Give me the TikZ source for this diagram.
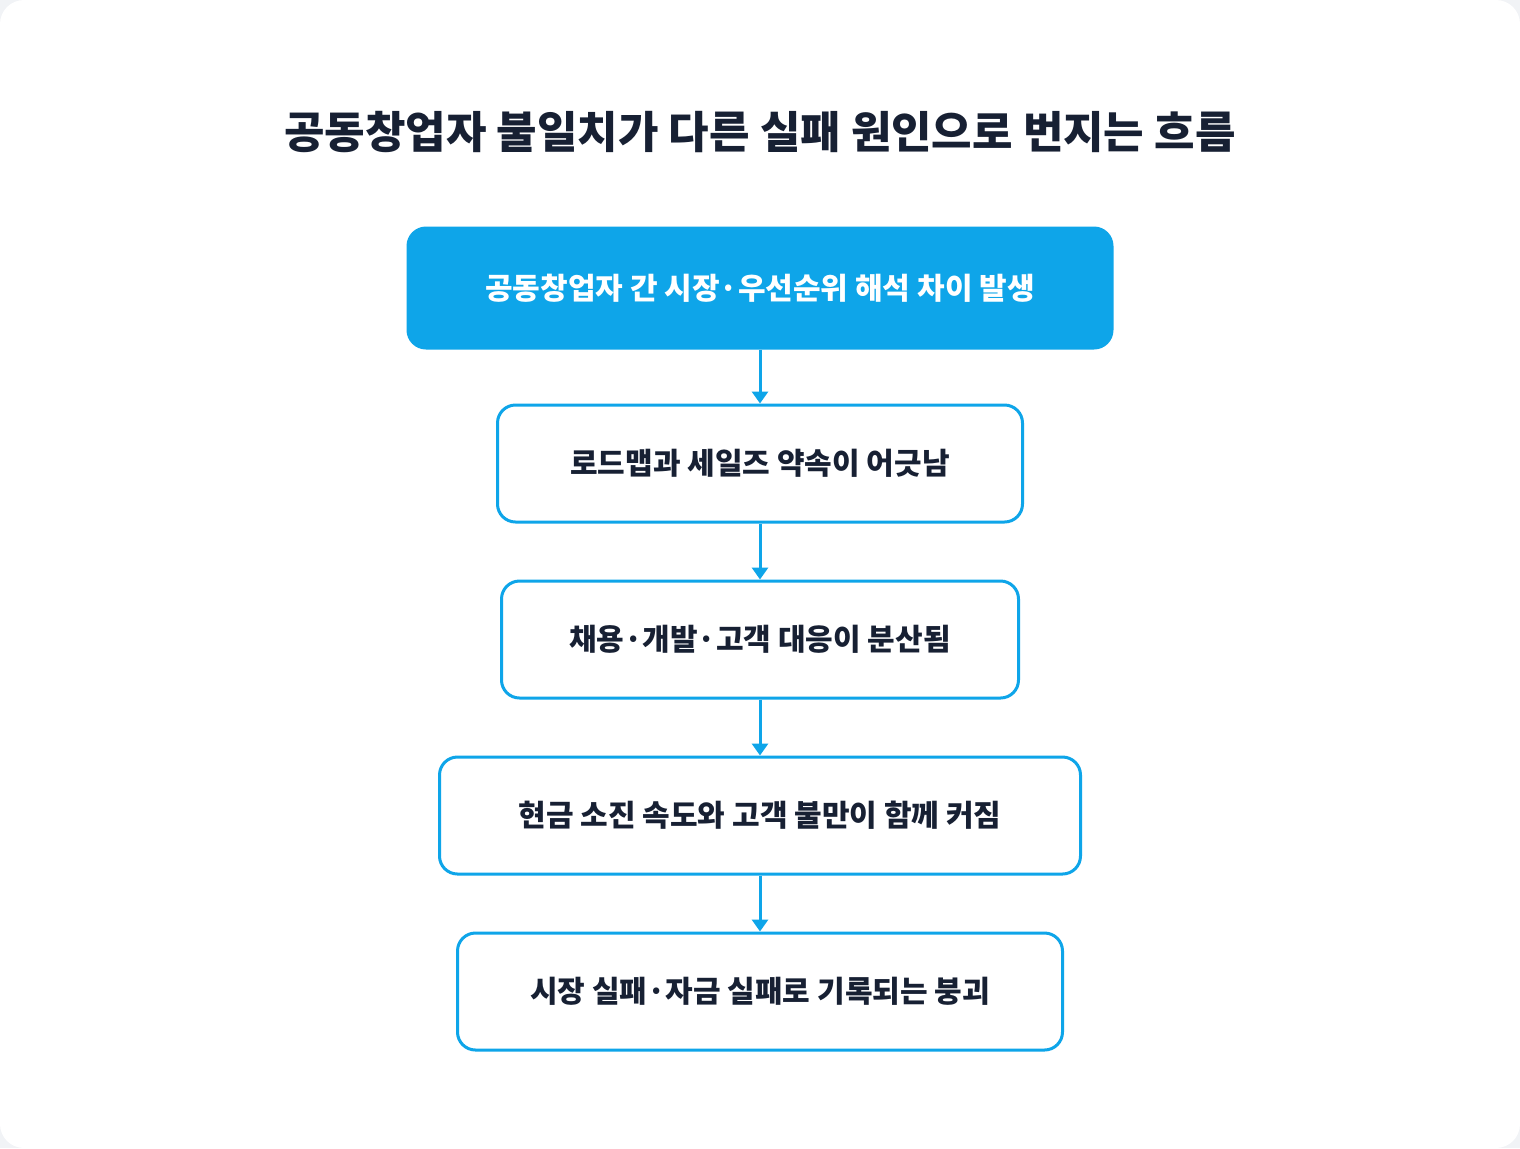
\documentclass[tikz,border=0pt]{standalone}
\usepackage{fontspec}
\setmainfont{Noto Sans CJK KR}
\usetikzlibrary{arrows.meta}
\definecolor{skyblue}{HTML}{0EA5E9}
\definecolor{inkdark}{HTML}{172033}
\definecolor{pagegray}{HTML}{F1F3F6}

\begin{document}
\begin{tikzpicture}[x=0.5pt,y=-0.5pt]
\tikzset{stepbox/.style={draw=skyblue, line width=1.5pt, rounded corners=9pt, fill=white,
  minimum height=58.5pt, font=\fontsize{15}{18}\selectfont\bfseries, text=inkdark, inner sep=0pt}}
\tikzset{firstbox/.style={stepbox, fill=skyblue, text=white}}
\tikzset{flow/.style={draw=skyblue, line width=1.5pt, -{Triangle[length=6pt,width=8pt]}}}

\fill[pagegray] (0,0) rectangle (1520,1148);
\fill[white, rounded corners=12pt] (0,0) rectangle (1520,1148);
\useasboundingbox (0,0) rectangle (1520,1148);

\node[font=\fontsize{22}{26}\selectfont\bfseries, text=inkdark] (title) at (760,132) {공동창업자 불일치가 다른 실패 원인으로 번지는 흐름};

\node[firstbox, minimum width=352pt, minimum height=60pt] (S1) at (760,288) {공동창업자 간 시장·우선순위 해석 차이 발생};
\node[stepbox, minimum width=262.5pt] (S2) at (760,463.5) {로드맵과 세일즈 약속이 어긋남};
\node[stepbox, minimum width=258.5pt] (S3) at (760,639.5) {채용·개발·고객 대응이 분산됨};
\node[stepbox, minimum width=320.5pt] (S4) at (760,815.5) {현금 소진 속도와 고객 불만이 함께 커짐};
\node[stepbox, minimum width=302.5pt] (S5) at (760,991.5) {시장 실패·자금 실패로 기록되는 붕괴};

\foreach \a/\b in {S1/S2,S2/S3,S3/S4,S4/S5}
  \draw[flow] (\a.south) -- (\b.north);
\end{tikzpicture}
\end{document}
